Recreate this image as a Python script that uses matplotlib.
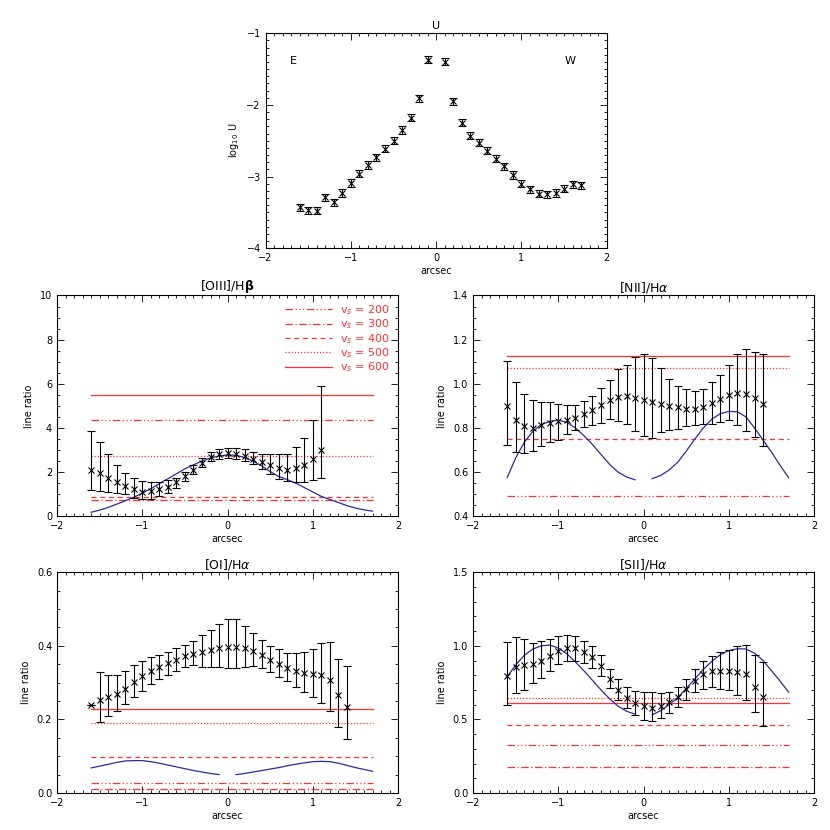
import numpy as np
import matplotlib
matplotlib.use("Agg")
import matplotlib.pyplot as plt
from matplotlib.ticker import MultipleLocator

# positions along the slit (arcsec)
x_left = [-1.6, -1.5, -1.4, -1.3, -1.2, -1.1, -1.0, -0.9, -0.8, -0.7, -0.6, -0.5, -0.4, -0.3, -0.2, -0.1]
x_right = [0.1, 0.2, 0.3, 0.4, 0.5, 0.6, 0.7, 0.8, 0.9, 1.0, 1.1, 1.2, 1.3, 1.4, 1.5, 1.6, 1.7]
x_obs = x_left + [0.0] + x_right[:14]          # -1.6 .. 1.4
x_oiii = x_left + [0.0] + x_right[:11]         # -1.6 .. 1.1
x_u = x_left + x_right

# ionisation parameter
u_val = [-3.43, -3.47, -3.48, -3.29, -3.36, -3.23, -3.09, -2.96, -2.84, -2.73, -2.61, -2.50, -2.35, -2.18, -1.91, -1.37,
         -1.40, -1.95, -2.25, -2.43, -2.53, -2.64, -2.75, -2.86, -2.98, -3.10, -3.18, -3.24, -3.25, -3.23, -3.17, -3.11, -3.12]
u_err = 0.05

# [OIII]/Hb
oiii_val = [2.11, 1.95, 1.74, 1.53, 1.37, 1.22, 1.11, 1.15, 1.22, 1.33, 1.53, 1.83, 2.11, 2.41, 2.67, 2.82,
            2.85, 2.82, 2.75, 2.59, 2.47, 2.32, 2.17, 2.11, 2.17, 2.32, 2.59, 3.02]
oiii_hi = [3.85, 3.36, 2.82, 2.32, 1.98, 1.72, 1.60, 1.53, 1.53, 1.65, 1.75, 2.02, 2.32, 2.62, 2.90, 3.05,
           3.11, 3.10, 3.05, 2.93, 2.82, 2.82, 2.82, 2.82, 3.13, 3.54, 4.35, 5.88]
oiii_lo = [1.19, 1.15, 1.10, 1.07, 0.99, 0.84, 0.79, 0.79, 0.92, 1.07, 1.30, 1.60, 1.91, 2.21, 2.49, 2.59,
           2.62, 2.59, 2.49, 2.37, 2.14, 1.91, 1.71, 1.60, 1.53, 1.56, 1.63, 1.75]
oiii_mod = [0.18, 0.28, 0.40, 0.55, 0.70, 0.86, 1.05, 1.25, 1.48, 1.70, 1.92, 2.15, 2.33, 2.50, 2.64, 2.73,
            2.78, 2.76, 2.66, 2.50, 2.28, 2.02, 1.80, 1.66, 1.50, 1.30, 1.10, 0.90, 0.76, 0.62, 0.48, 0.37, 0.29, 0.23]

# [NII]/Ha
nii_val = [0.899, 0.835, 0.809, 0.801, 0.812, 0.824, 0.830, 0.836, 0.847, 0.863, 0.881, 0.904, 0.927, 0.942, 0.946, 0.934,
           0.927, 0.919, 0.908, 0.901, 0.893, 0.888, 0.888, 0.896, 0.911, 0.929, 0.950, 0.960, 0.954, 0.937, 0.908]
nii_hi = [1.105, 1.007, 0.954, 0.927, 0.919, 0.916, 0.910, 0.904, 0.904, 0.922, 0.946, 0.983, 1.018, 1.069, 1.087, 1.120,
          1.133, 1.117, 1.072, 1.023, 0.991, 0.975, 0.968, 0.975, 1.007, 1.041, 1.084, 1.133, 1.156, 1.145, 1.136]
nii_lo = [0.725, 0.690, 0.687, 0.695, 0.716, 0.736, 0.746, 0.771, 0.789, 0.804, 0.812, 0.824, 0.840, 0.830, 0.818, 0.785,
          0.762, 0.754, 0.782, 0.789, 0.797, 0.809, 0.815, 0.818, 0.818, 0.827, 0.835, 0.812, 0.785, 0.759, 0.720]
nii_mod_l = [0.575, 0.665, 0.735, 0.785, 0.815, 0.830, 0.835, 0.825, 0.800, 0.765, 0.725, 0.680, 0.635, 0.600, 0.578, 0.565]
nii_mod_r = [0.570, 0.585, 0.610, 0.645, 0.695, 0.750, 0.800, 0.840, 0.865, 0.875, 0.873, 0.850, 0.800, 0.745, 0.690, 0.630, 0.575]

# [OI]/Ha
oi_val = [0.240, 0.254, 0.260, 0.269, 0.283, 0.301, 0.317, 0.331, 0.342, 0.352, 0.362, 0.371, 0.378, 0.382, 0.389, 0.394,
          0.398, 0.398, 0.393, 0.387, 0.375, 0.362, 0.351, 0.340, 0.331, 0.326, 0.324, 0.320, 0.308, 0.266, 0.235]
oi_hi = [0.240, 0.328, 0.321, 0.321, 0.331, 0.348, 0.358, 0.369, 0.376, 0.384, 0.394, 0.402, 0.412, 0.428, 0.443, 0.459,
         0.473, 0.472, 0.455, 0.435, 0.417, 0.400, 0.390, 0.380, 0.380, 0.383, 0.392, 0.407, 0.411, 0.365, 0.346]
oi_lo = [0.240, 0.192, 0.208, 0.224, 0.242, 0.260, 0.278, 0.296, 0.310, 0.321, 0.331, 0.342, 0.348, 0.343, 0.343, 0.342,
         0.340, 0.339, 0.343, 0.346, 0.339, 0.328, 0.314, 0.303, 0.287, 0.274, 0.262, 0.244, 0.222, 0.180, 0.147]
oi_mod_l = [0.068, 0.073, 0.078, 0.083, 0.087, 0.088, 0.088, 0.085, 0.081, 0.076, 0.071, 0.066, 0.061, 0.057, 0.053, 0.050]
oi_mod_r = [0.050, 0.053, 0.057, 0.061, 0.065, 0.069, 0.074, 0.078, 0.082, 0.085, 0.086, 0.085, 0.081, 0.075, 0.069, 0.064, 0.059]

# [SII]/Ha
sii_val = [0.793, 0.854, 0.870, 0.877, 0.899, 0.933, 0.967, 0.986, 0.986, 0.960, 0.922, 0.865, 0.775, 0.700, 0.646, 0.612,
           0.589, 0.578, 0.589, 0.616, 0.650, 0.707, 0.763, 0.809, 0.827, 0.827, 0.827, 0.820, 0.809, 0.723, 0.650]
sii_hi = [1.029, 1.063, 1.047, 1.017, 1.035, 1.047, 1.069, 1.076, 1.069, 1.035, 0.997, 0.938, 0.843, 0.775, 0.718, 0.696,
          0.689, 0.684, 0.677, 0.689, 0.718, 0.775, 0.843, 0.895, 0.933, 0.956, 0.972, 0.997, 1.008, 0.938, 0.888]
sii_lo = [0.600, 0.680, 0.700, 0.748, 0.782, 0.831, 0.877, 0.899, 0.899, 0.884, 0.847, 0.797, 0.711, 0.634, 0.578, 0.530,
          0.498, 0.492, 0.510, 0.544, 0.582, 0.632, 0.684, 0.707, 0.718, 0.707, 0.700, 0.668, 0.632, 0.548, 0.453]
sii_mod_l = [0.790, 0.870, 0.935, 0.978, 1.000, 1.005, 0.985, 0.945, 0.890, 0.830, 0.765, 0.700, 0.640, 0.590, 0.555, 0.535]
sii_mod_r = [0.530, 0.560, 0.600, 0.650, 0.710, 0.775, 0.840, 0.895, 0.940, 0.968, 0.980, 0.978, 0.950, 0.900, 0.830, 0.760, 0.685]

# shock model ratios for vs = 200, 300, 400, 500, 600 km/s
vs_labels = ["200", "300", "400", "500", "600"]
oiii_vs = [4.35, 0.73, 0.87, 2.75, 5.47]
nii_vs = [0.49, np.nan, 0.75, 1.072, 1.128]
oi_vs = [0.027, 0.010, 0.099, 0.189, 0.228]
sii_vs = [0.328, 0.174, 0.462, 0.645, 0.614]

vs_styles = [(0, (6, 2, 1, 2, 1, 2, 1, 2)), (0, (6, 2, 1, 2)), (0, (4, 3)), (0, (1, 1.5)), "-"]
RED = "#ff3030"
BLUE = "#2a2aa0"

plt.rcParams["font.family"] = "DejaVu Sans"
plt.rcParams["font.size"] = 7

fig = plt.figure(figsize=(8.3, 8.3), dpi=100)


def style_axes(ax, ymaj, ymin):
    ax.set_xlim(-2, 2)
    ax.xaxis.set_major_locator(MultipleLocator(1))
    ax.xaxis.set_minor_locator(MultipleLocator(0.1))
    ax.yaxis.set_major_locator(MultipleLocator(ymaj))
    ax.yaxis.set_minor_locator(MultipleLocator(ymin))
    ax.tick_params(which="both", direction="in", top=True, right=True, width=0.6, labelsize=7)
    ax.tick_params(which="major", length=5)
    ax.tick_params(which="minor", length=2.5)
    for s in ax.spines.values():
        s.set_linewidth(0.8)
    ax.set_xlabel("arcsec", fontsize=7, labelpad=2)


def ratio_panel(rect, title, ylim, ymaj, ymin, val, lo, hi, xo, vs, mods, legend=False):
    ax = fig.add_axes(rect)
    x_start, x_end = x_left[0], x_right[-1]
    for v, ls, lab in zip(vs, vs_styles, vs_labels):
        ax.plot([x_start, x_end], [v, v], color=RED, lw=0.9, ls=ls, label="v$_s$ = " + lab)
    for mx, my in mods:
        ax.plot(mx, my, color=BLUE, lw=0.9)
    val = np.array(val)
    yerr = [val - np.array(lo), np.array(hi) - val]
    ax.errorbar(xo, val, yerr=yerr, fmt="x", color="black", ms=4, mew=0.8,
                elinewidth=0.8, capsize=3, capthick=0.8)
    ax.set_ylim(*ylim)
    style_axes(ax, ymaj, ymin)
    ax.set_ylabel("line ratio", fontsize=7)
    ax.set_title(title, fontsize=9, pad=3)
    if legend:
        leg = ax.legend(loc="upper right", frameon=False, fontsize=8, handlelength=4.2,
                        labelspacing=0.05, borderaxespad=0.3, handletextpad=0.8)
        for t in leg.get_texts():
            t.set_color(RED)
    return ax


# top panel: log U
ax = fig.add_axes([0.320, 0.701, 0.411, 0.259])
ax.errorbar(x_u, u_val, yerr=u_err, fmt="x", color="black", ms=4, mew=0.8,
            elinewidth=0.8, capsize=3, capthick=0.8)
ax.set_ylim(-4, -1)
style_axes(ax, 1, 0.1)
ax.set_ylabel("log$_{10}$ U", fontsize=7)
ax.set_title("U", fontsize=8, pad=3)
ax.text(-1.68, -1.39, "E", fontsize=8, ha="center", va="center")
ax.text(1.57, -1.39, "W", fontsize=8, ha="center", va="center")

x_oiii_mod = x_left + [0.0] + x_right

ratio_panel([0.0687, 0.378, 0.411, 0.266], "[OIII]/H$\\mathbf{\\beta}$", (0, 10), 2, 0.5,
            oiii_val, oiii_lo, oiii_hi, x_oiii, oiii_vs, [(x_oiii_mod, oiii_mod)], legend=True)
ratio_panel([0.570, 0.378, 0.411, 0.266], "[NII]/H$\\alpha$", (0.4, 1.4), 0.2, 0.05,
            nii_val, nii_lo, nii_hi, x_obs, nii_vs, [(x_left, nii_mod_l), (x_right, nii_mod_r)])
ratio_panel([0.0687, 0.0446, 0.411, 0.266], "[OI]/H$\\alpha$", (0, 0.6), 0.2, 0.05,
            oi_val, oi_lo, oi_hi, x_obs, oi_vs, [(x_left, oi_mod_l), (x_right, oi_mod_r)])
ratio_panel([0.570, 0.0446, 0.411, 0.266], "[SII]/H$\\alpha$", (0, 1.5), 0.5, 0.1,
            sii_val, sii_lo, sii_hi, x_obs, sii_vs, [(x_left, sii_mod_l), (x_right, sii_mod_r)])

fig.savefig("out.png", dpi=100)
